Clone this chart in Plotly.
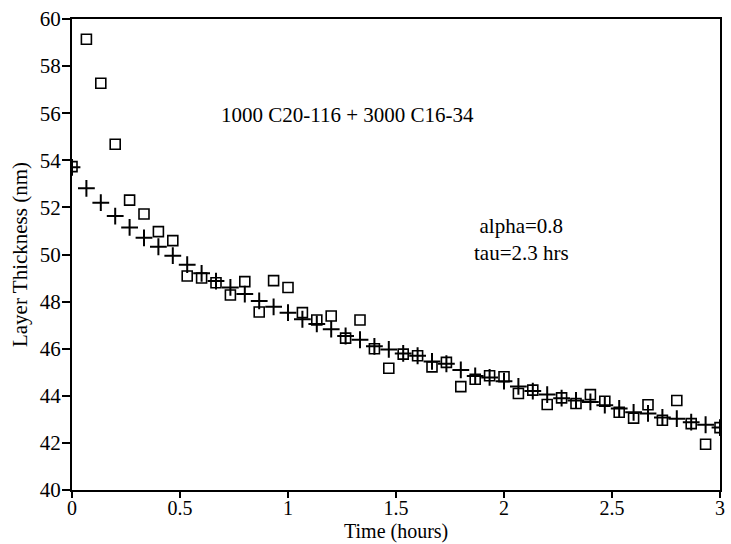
import plotly.graph_objects as go

# Time points (hours), one every 4 minutes
time_h = [k / 15 for k in range(46)]

# Measured layer thickness (open rectangles)
measured_nm = [53.73, 59.14, 57.27, 54.68, 52.31, 51.72, 50.97, 50.59, 49.09, 49.00,
               48.80, 48.28, 48.85, 47.56, 48.89, 48.60, 47.53, 47.22, 47.39, 46.45,
               47.22, 46.00, 45.17, 45.77, 45.70, 45.23, 45.42, 44.39, 44.70, 44.85,
               44.81, 44.10, 44.24, 43.63, 43.91, 43.67, 44.05, 43.77, 43.30, 43.05,
               43.62, 42.96, 43.80, 42.82, 41.94, 42.65]

# Model fit (plus markers)
fit_nm = [53.70, 52.81, 52.20, 51.63, 51.15, 50.71, 50.33, 49.95, 49.57, 49.20,
          48.87, 48.60, 48.32, 48.03, 47.78, 47.53, 47.25, 47.05, 46.83, 46.54,
          46.38, 46.10, 45.97, 45.80, 45.70, 45.46, 45.36, 45.10, 44.84, 44.78,
          44.62, 44.40, 44.20, 44.05, 43.90, 43.80, 43.74, 43.60, 43.46, 43.30,
          43.25, 43.08, 43.03, 42.88, 42.77, 42.65]

x_ticks = [0, 0.5, 1, 1.5, 2, 2.5, 3]
x_tick_labels = ["0", "0.5", "1", "1.5", "2", "2.5", "3"]
y_ticks = [40, 42, 44, 46, 48, 50, 52, 54, 56, 58, 60]

FONT = "Liberation Serif, Times New Roman, serif"
FS = 21

fig = go.Figure()
fig.add_trace(go.Scatter(
    x=time_h, y=fit_nm, mode="markers",
    marker=dict(symbol="cross-thin-open", size=12, color="black",
                line=dict(color="black", width=2)),
    showlegend=False, cliponaxis=True))
fig.add_trace(go.Scatter(
    x=time_h, y=measured_nm, mode="markers",
    marker=dict(symbol="square-open", size=10, color="black",
                line=dict(color="black", width=1.6)),
    showlegend=False, cliponaxis=True))

fig.add_annotation(x=0.425, y=0.826, xref="paper", yref="paper",
                   text="1000 C20-116 + 3000 C16-34", showarrow=False,
                   font=dict(family=FONT, size=FS, color="black"))
fig.add_annotation(x=0.77, y=0.531, xref="paper", yref="paper",
                   text="alpha=0.8<br>tau=2.3 hrs", showarrow=False,
                   align="center",
                   font=dict(family=FONT, size=FS, color="black"))
fig.add_annotation(x=0.5, y=-0.088, xref="paper", yref="paper", yanchor="middle",
                   text="Time (hours)", showarrow=False, borderpad=0,
                   font=dict(family=FONT, size=20, color="black"))

fig.update_layout(
    width=731, height=544,
    margin=dict(l=72, r=6, t=19, b=54),
    paper_bgcolor="white", plot_bgcolor="white",
    font=dict(family=FONT, size=FS, color="black"),
    xaxis=dict(range=[0, 3], tickmode="array", tickvals=x_ticks, ticktext=x_tick_labels,
               ticks="outside", ticklen=6, tickwidth=1.5, tickcolor="black",
               ticklabelstandoff=-7,
               tickfont=dict(family=FONT, size=20, color="black"),
               showline=True, linecolor="black", linewidth=2, mirror=True,
               showgrid=False, zeroline=False),
    yaxis=dict(range=[40, 60], tickmode="array", tickvals=y_ticks,
               ticks="outside", ticklen=8, tickwidth=1.5, tickcolor="black",
               ticklabelstandoff=-3,
               tickfont=dict(family=FONT, size=FS, color="black"),
               showline=True, linecolor="black", linewidth=2, mirror=True,
               showgrid=False, zeroline=False,
               title=dict(text="Layer Thickness (nm)", standoff=6,
                          font=dict(family=FONT, size=FS, color="black"))),
)

fig.write_html("out.html")
